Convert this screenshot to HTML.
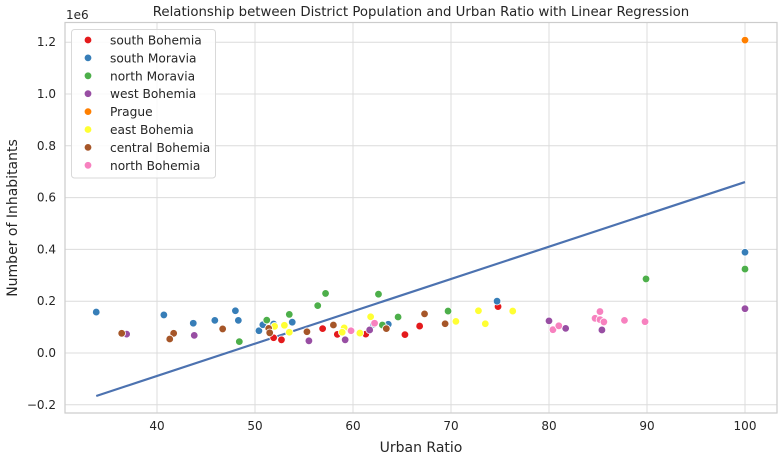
<!DOCTYPE html>
<html><head><meta charset="utf-8"><style>
body{margin:0;background:#fff;font-family:"Liberation Sans","DejaVu Sans",sans-serif;}
svg text{font-family:"DejaVu Sans","Liberation Sans",sans-serif;fill:#262626;}
</style></head><body>
<svg id="chart" width="783" height="458" xmlns="http://www.w3.org/2000/svg"></svg>
<script>
const regions = ["south Bohemia","south Moravia","north Moravia","west Bohemia","Prague","east Bohemia","central Bohemia","north Bohemia"];
const colors = ["#e41a1c","#377eb8","#4daf4a","#984ea3","#ff7f00","#ffff33","#a65628","#f781bf"];
const ratioSB=[51.9,52.7,56.9,58.4,61.3,65.3,66.8,74.8];
const popSB=[59,51,94,72,73,71,104,179];
const ratioSM=[33.8,40.7,43.7,45.9,48.0,48.3,50.4,50.8,51.9,53.8,62.1,63.6,74.7,100];
const popSM=[158,147,115,126,163,126,86,109,112,119,111,111,200,389];
const ratioNM=[48.4,51.2,53.5,56.4,57.2,62.6,63.0,64.6,69.7,89.9,100];
const popNM=[44,127,149,183,230,227,108,139,162,286,324];
const ratioWB=[36.9,43.8,55.5,59.2,61.7,80.0,81.7,85.4,100];
const popWB=[73,68,47,51,89,124,95,89,171];
const ratioPR=[100];
const popPR=[1208];
const ratioEB=[52.0,53.0,53.5,59.1,58.9,60.7,61.8,70.5,72.8,73.5,76.3];
const popEB=[103,107,80,97,80,77,140,122,163,113,162];
const ratioCB=[36.4,41.7,41.3,46.7,51.4,51.5,55.3,58.0,63.4,67.3,69.4];
const popCB=[76,76,54,93,95,78,82,108,94,151,113];
const ratioNB=[59.8,62.2,80.4,81.0,84.7,85.2,85.2,85.6,87.7,89.8];
const popNB=[86,115,90,105,134,160,129,120,126,121];
const xTicks=[40,50,60,70,80,90,100];
const yTicks=[-0.2,0,0.2,0.4,0.6,0.8,1.0,1.2];
const lineX=[33.8,100];
const lineY=[-166,660];

const ratios=[ratioSB,ratioSM,ratioNM,ratioWB,ratioPR,ratioEB,ratioCB,ratioNB];
const pops=[popSB,popSM,popNM,popWB,popPR,popEB,popCB,popNB];
const NS="http://www.w3.org/2000/svg";
const svg=document.getElementById('chart');
const L=65,R=777,T=22.5,B=413;
function X(v){return 157+(v-40)*9.8;}
function Y(k){return 353-k/1000*259;}
function mk(tag,attrs,parent){const e=document.createElementNS(NS,tag);for(const k in attrs)e.setAttribute(k,attrs[k]);(parent||svg).appendChild(e);return e;}

const grid=mk('g',{});


xTicks.forEach(t=>{
  const l=mk('line',{x1:X(t),x2:X(t),y1:T,y2:B,stroke:'#dcdcdc','stroke-width':1},grid);
  
  
  const tx=mk('text',{x:X(t),y:B+17,'text-anchor':'middle','font-size':12});
  tx.textContent=t;
  
  
});
yTicks.forEach(t=>{
  const l=mk('line',{x1:L,x2:R,y1:Y(t*1000),y2:Y(t*1000),stroke:'#dcdcdc','stroke-width':1},grid);
  
  
  const tx=mk('text',{x:L-9,y:Y(t*1000)+4,'text-anchor':'end','font-size':12});
  tx.textContent=(t<0?'\u22120.2':t.toFixed(1));
  
  
});
const frame=mk('rect',{x:L,y:T,width:R-L,height:B-T,fill:'none',stroke:'#cccccc','stroke-width':1.2});



const reg=mk('line',{x1:X(lineX[0]),y1:Y(lineY[0]),x2:X(lineX[1]),y2:Y(lineY[1]),stroke:'#4c72b0','stroke-width':2.2});



ratios.forEach((arr,i)=>{
  arr.forEach((r,j)=>{
    const c=mk('circle',{cx:X(r),cy:Y(pops[i][j]),r:3.8,fill:colors[i],stroke:'#fff','stroke-width':0.8});
    
    
  });
});

const t1=mk('text',{x:421,y:16,'text-anchor':'middle','font-size':13.3});
t1.textContent='Relationship between District Population and Urban Ratio with Linear Regression';


const t2=mk('text',{x:421,y:452,'text-anchor':'middle','font-size':14});
t2.textContent='Urban Ratio';


const t3=mk('text',{x:17,y:218,'text-anchor':'middle','font-size':14,transform:'rotate(-90 17 218)'});
t3.textContent='Number of Inhabitants';


const t4=mk('text',{x:66,y:19,'font-size':12});
t4.textContent='1e6';



const lg=mk('g',{});


mk('rect',{x:71.5,y:29.5,width:144,height:148.5,rx:3,fill:'#fff','fill-opacity':0.85,stroke:'#d9d9d9'},lg);
regions.forEach((n,i)=>{
  const yy=40+i*17.9;
  const e=mk('g',{},lg);
  
  
  mk('circle',{cx:88,cy:yy,r:3.8,fill:colors[i],stroke:'#fff','stroke-width':0.8},e);
  const t=mk('text',{x:110,y:yy+4.5,'font-size':12.2},e);
  t.textContent=n;
});
</script>
</body></html>
